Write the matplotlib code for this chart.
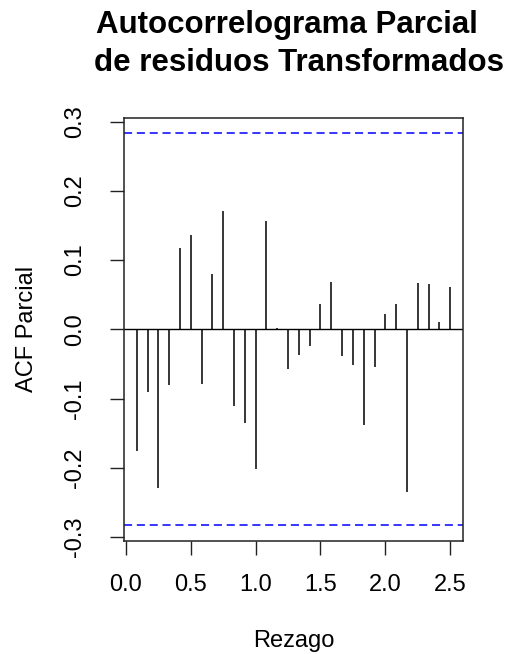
import numpy as np
import matplotlib
matplotlib.use("Agg")
import matplotlib.pyplot as plt

plt.rcParams['font.family'] = ['Liberation Sans', 'DejaVu Sans']

# rezagos (datos mensuales, 30 rezagos) y valores de la FACP
lags = np.arange(1, 31) / 12
pacf_vals = [-0.176, -0.091, -0.229, -0.081, 0.117, 0.136, -0.079, 0.080, 0.171, -0.110,
             -0.135, -0.201, 0.156, 0.002, -0.057, -0.037, -0.024, 0.036, 0.069, -0.039,
             -0.052, -0.138, -0.054, 0.022, 0.036, -0.235, 0.067, 0.065, 0.011, 0.061]
n_obs = 48
ci = 1.96 / np.sqrt(n_obs)

x_ticks = [0.0, 0.5, 1.0, 1.5, 2.0, 2.5]
y_ticks = [-0.3, -0.2, -0.1, 0.0, 0.1, 0.2, 0.3]

fig = plt.figure(figsize=(5.09, 6.54), dpi=100)
ax = fig.add_axes([0.2442, 0.1728, 0.909 - 0.2442, 0.820 - 0.1728])

ax.vlines(lags, 0, pacf_vals, color='black', linewidth=1.1)
ax.axhline(0, color='black', linewidth=1.0)
ax.axhline(ci, color='#0000ff', linewidth=1.1, linestyle=(0, (5.3, 3.1)))
ax.axhline(-ci, color='#0000ff', linewidth=1.1, linestyle=(0, (5.3, 3.1)))

# limites estilo R (extension 4%)
xr = lags.max() - lags.min()
ax.set_xlim(-0.013, lags.max() + 0.04 * xr)
ylo = min(-ci, min(pacf_vals))
yhi = max(ci, max(pacf_vals))
yr = yhi - ylo
ax.set_ylim(ylo - 0.04 * yr, yhi + 0.04 * yr)

ax.set_xticks(x_ticks)
ax.set_xticklabels([f"{v:.1f}" for v in x_ticks])
ax.set_yticks(y_ticks)
ax.set_yticklabels([f"{v:.1f}" for v in y_ticks], rotation=90, va='center')

ax.tick_params(axis='both', length=10, width=1.0, labelsize=17, color='#222222')
ax.tick_params(axis='x', pad=14)
ax.tick_params(axis='y', pad=17.5)
for s in ax.spines.values():
    s.set_linewidth(1.1)
    s.set_color('#222222')

ax.set_xlabel("Rezago", fontsize=17, labelpad=24)
ax.set_ylabel("ACF Parcial", fontsize=17, labelpad=19)

fig.text(0.564, 0.949, "Autocorrelograma Parcial",
         ha='center', va='baseline', fontsize=22.5, fontweight='bold')
fig.text(0.587, 0.892, "de residuos Transformados",
         ha='center', va='baseline', fontsize=22.5, fontweight='bold')

fig.savefig("out.png", dpi=100)
